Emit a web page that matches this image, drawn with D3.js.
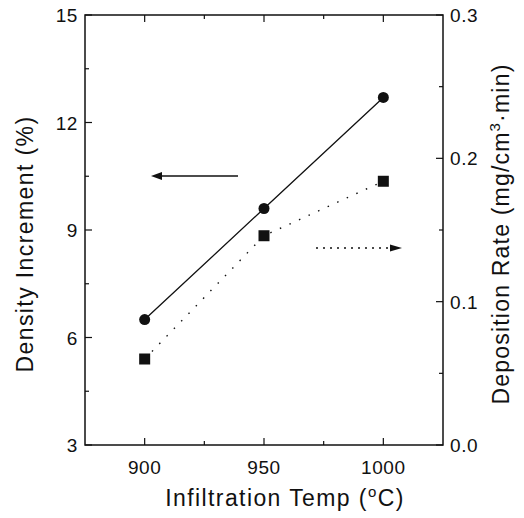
<html>
<head>
  <meta charset="utf-8" />
  <script src="https://cdnjs.cloudflare.com/ajax/libs/d3/7.8.5/d3.min.js"></script>
  <style>
    body { margin: 0; background: #fff; }
    text { font-family: "Liberation Sans", Arial, sans-serif; fill: #111; }
  </style>
</head>
<body>
  <svg></svg>
  <script>
    var temps = [900, 950, 1000]
    var densityIncrement = [6.5, 9.6, 12.7]
    var depositionRate = [0.06, 0.146, 0.184]
    var xTicks = [900, 950, 1000]
    var leftTicks = [3, 6, 9, 12, 15]
    var rightTicks = [0.0, 0.1, 0.2, 0.3]

    var svg = d3.select("svg").attr("width", 524).attr("height", 518)

    var pLeft = 85, pRight = 443, pTop = 15, pBottom = 445

    var xScale = d3.scaleLinear().domain([875, 1025]).range([pLeft, pRight])
    var yLeft = d3.scaleLinear().domain([3, 15]).range([pBottom, pTop])
    var yRight = d3.scaleLinear().domain([0, 0.3]).range([pBottom, pTop])

    // frame
    svg.append("rect")
      .attr("x", pLeft).attr("y", pTop)
      .attr("width", pRight - pLeft).attr("height", pBottom - pTop)
      .attr("fill", "none").attr("stroke", "#111").attr("stroke-width", 1.5)

    // ticks pointing inward
    var tick = svg.append("g").attr("stroke", "#111").attr("stroke-width", 1.2)
    var xMinor = [925, 975]
    xTicks.concat(xMinor).forEach(function(t) {
      var len = xTicks.indexOf(t) >= 0 ? 7 : 4
      tick.append("line").attr("x1", xScale(t)).attr("x2", xScale(t)).attr("y1", pBottom).attr("y2", pBottom - len)
      tick.append("line").attr("x1", xScale(t)).attr("x2", xScale(t)).attr("y1", pTop).attr("y2", pTop + len)
    })
    d3.range(3, 15.01, 1.5).forEach(function(t) {
      var len = t % 3 === 0 ? 7 : 4
      tick.append("line").attr("x1", pLeft).attr("x2", pLeft + len).attr("y1", yLeft(t)).attr("y2", yLeft(t))
    })
    d3.range(0, 0.301, 0.05).forEach(function(t, i) {
      var len = i % 2 === 0 ? 7 : 4
      tick.append("line").attr("x1", pRight).attr("x2", pRight - len).attr("y1", yRight(t)).attr("y2", yRight(t))
    })

    // tick labels
    svg.selectAll("text.xt").data(xTicks).enter().append("text")
      .attr("x", d => xScale(d)).attr("y", 474)
      .attr("text-anchor", "middle").attr("font-size", 19).attr("letter-spacing", 0.6)
      .text(d => d)
    svg.selectAll("text.yl").data(leftTicks).enter().append("text")
      .attr("x", 78).attr("y", d => yLeft(d) + 7)
      .attr("text-anchor", "end").attr("font-size", 19).attr("letter-spacing", 0.6)
      .text(d => d)
    svg.selectAll("text.yr").data(rightTicks).enter().append("text")
      .attr("x", 450).attr("y", d => yRight(d) + 7)
      .attr("text-anchor", "start").attr("font-size", 19).attr("letter-spacing", 0.6)
      .text(d => d.toFixed(1))

    // axis titles
    var xt = svg.append("text").attr("x", 285).attr("y", 506)
      .attr("text-anchor", "middle").attr("font-size", 23).attr("letter-spacing", 1.4)
    xt.append("tspan").text("Infiltration Temp (")
    xt.append("tspan").attr("dy", -9).attr("font-size", 15).text("o")
    xt.append("tspan").attr("dy", 9).text("C)")

    svg.append("text")
      .attr("transform", "translate(33,244) rotate(-90)")
      .attr("text-anchor", "middle").attr("font-size", 23).attr("letter-spacing", 1.4)
      .text("Density Increment (%)")

    var rt = svg.append("text")
      .attr("transform", "translate(509,234) rotate(-90)")
      .attr("text-anchor", "middle").attr("font-size", 23).attr("letter-spacing", 1.2)
    rt.append("tspan").text("Deposition Rate (mg/cm")
    rt.append("tspan").attr("dy", -9).attr("font-size", 15).text("3")
    rt.append("tspan").attr("dy", 9).text("·min)")

    // density series
    var lineL = d3.line().x((d, i) => xScale(temps[i])).y(d => yLeft(d))
    svg.append("path").datum(densityIncrement)
      .attr("d", lineL).attr("fill", "none").attr("stroke", "#111").attr("stroke-width", 1.3)
    svg.selectAll("circle.pt").data(densityIncrement).enter().append("circle")
      .attr("cx", (d, i) => xScale(temps[i])).attr("cy", d => yLeft(d))
      .attr("r", 5.5).attr("fill", "#111")

    // deposition series
    var lineR = d3.line().x((d, i) => xScale(temps[i])).y(d => yRight(d))
    svg.append("path").datum(depositionRate)
      .attr("d", lineR).attr("fill", "none").attr("stroke", "#111")
      .attr("stroke-width", 1.4).attr("stroke-dasharray", "1.5,9")
    svg.selectAll("rect.sq").data(depositionRate).enter().append("rect")
      .attr("x", (d, i) => xScale(temps[i]) - 5.5).attr("y", d => yRight(d) - 5.5)
      .attr("width", 11).attr("height", 11).attr("fill", "#111")

    // arrows
    svg.append("line").attr("x1", 238).attr("x2", 158).attr("y1", 176).attr("y2", 176)
      .attr("stroke", "#111").attr("stroke-width", 1.5)
    svg.append("path").attr("d", "M151,176 L162,172 L162,180 Z").attr("fill", "#111")

    svg.append("line").attr("x1", 316).attr("x2", 392).attr("y1", 248).attr("y2", 248)
      .attr("stroke", "#111").attr("stroke-width", 1.5).attr("stroke-dasharray", "2,5")
    svg.append("path").attr("d", "M402,248 L390,244.5 L390,251.5 Z").attr("fill", "#111")
  </script>
</body>
</html>
